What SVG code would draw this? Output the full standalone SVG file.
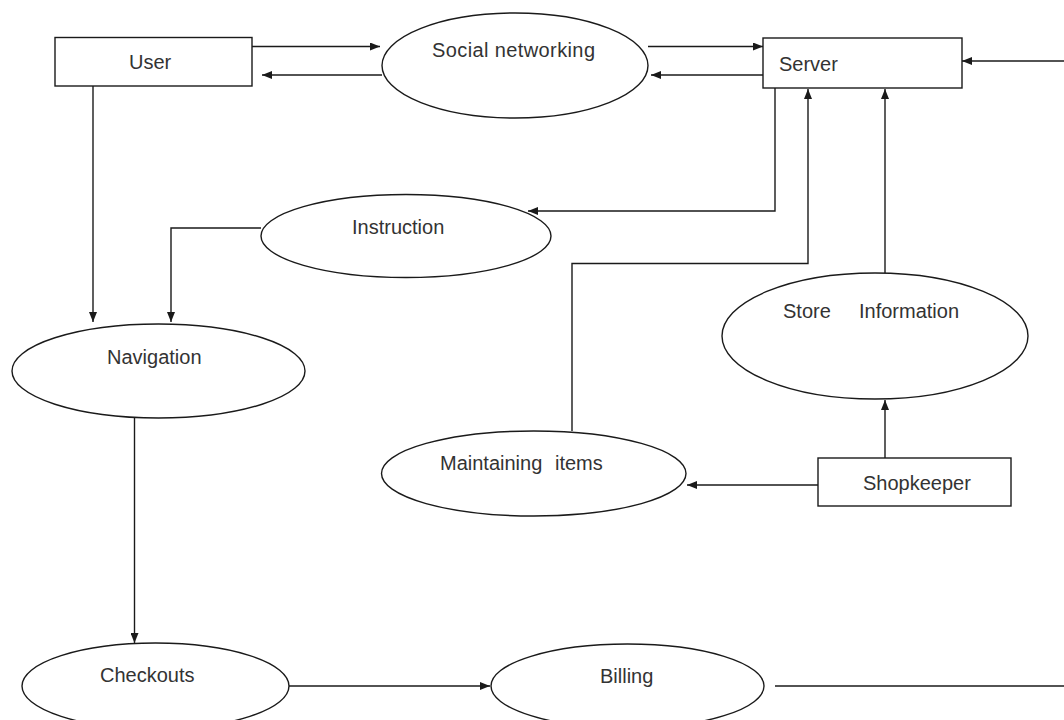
<svg xmlns="http://www.w3.org/2000/svg" width="1064" height="720" viewBox="0 0 1064 720">
<defs>
<marker id="ah" viewBox="0 0 10 8" refX="10" refY="4" markerWidth="10" markerHeight="8" markerUnits="userSpaceOnUse" orient="auto">
<path d="M0,0 L10,4 L0,8 Z" fill="#1a1a1a"/>
</marker>
<style>
.n{fill:#fff;stroke:#1a1a1a;stroke-width:1.4}
.t{font-family:"Liberation Sans",Arial,sans-serif;font-size:20px;fill:#333}
.c{fill:none;stroke:#1a1a1a;stroke-width:1.4}
.a{marker-end:url(#ah)}
</style>
</defs>
<rect width="1064" height="720" fill="#fff"/>
<g id="user"><rect class="n" x="55" y="37.5" width="197" height="48.5"/><text class="t" x="129" y="69">User</text></g>
<g id="social"><ellipse class="n" cx="515" cy="65.5" rx="133" ry="52.5"/><text class="t" x="432" y="57" textLength="163" lengthAdjust="spacing">Social networking</text></g>
<g id="server"><rect class="n" x="763" y="38" width="199" height="50"/><text class="t" x="779" y="71">Server</text></g>
<g id="instruction"><ellipse class="n" cx="406" cy="236" rx="145" ry="41.5"/><text class="t" x="352" y="234">Instruction</text></g>
<g id="navigation"><ellipse class="n" cx="158.5" cy="371" rx="146.5" ry="47"/><text class="t" x="107" y="364">Navigation</text></g>
<g id="store"><ellipse class="n" cx="875" cy="336" rx="153" ry="63"/><text class="t" x="783" y="318">Store</text><text class="t" x="859" y="318">Information</text></g>
<g id="maintaining"><ellipse class="n" cx="533.75" cy="473.5" rx="152.25" ry="42.5"/><text class="t" x="440" y="470">Maintaining <tspan x="555">items</tspan></text></g>
<g id="shopkeeper"><rect class="n" x="818" y="458" width="193" height="48"/><text class="t" x="863" y="490">Shopkeeper</text></g>
<g id="checkouts"><ellipse class="n" cx="155.5" cy="686" rx="133.5" ry="43"/><text class="t" x="100" y="682">Checkouts</text></g>
<g id="billing"><ellipse class="n" cx="627.5" cy="686" rx="136.5" ry="42"/><text class="t" x="600" y="683">Billing</text></g>
<g id="connectors">
<line class="c a" x1="252" y1="46.5" x2="380" y2="46.5"/>
<line class="c a" x1="382" y1="75" x2="262" y2="75"/>
<line class="c a" x1="648" y1="46.5" x2="763" y2="46.5"/>
<line class="c a" x1="763" y1="75" x2="651" y2="75"/>
<line class="c a" x1="1064" y1="61" x2="962" y2="61"/>
<polyline class="c a" points="775,88 775,211 528,211"/>
<polyline class="c a" points="261,228 171,228 171,322"/>
<line class="c a" x1="93" y1="86" x2="93" y2="322"/>
<line class="c a" x1="134.5" y1="418" x2="134.5" y2="643"/>
<line class="c a" x1="289" y1="686" x2="490" y2="686"/>
<line class="c" x1="775" y1="686" x2="1064" y2="686"/>
<polyline class="c a" points="572,431 572,263.5 808,263.5 808,89"/>
<line class="c a" x1="885" y1="273" x2="885" y2="89"/>
<line class="c a" x1="885" y1="458" x2="885" y2="400"/>
<line class="c a" x1="818" y1="485" x2="687" y2="485"/>
</g>
</svg>
